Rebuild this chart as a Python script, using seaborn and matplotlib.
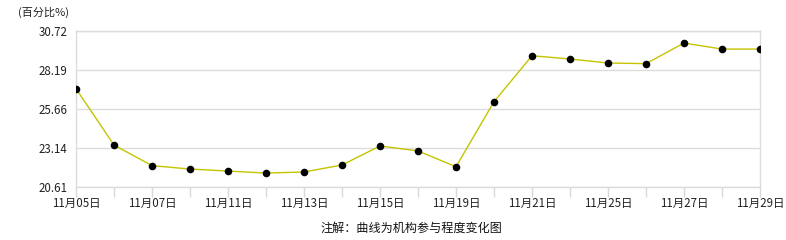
import matplotlib
matplotlib.use("Agg")
import matplotlib.pyplot as plt
import seaborn as sns
import pandas as pd

dates = ["11月05日", "11月06日", "11月07日", "11月10日", "11月11日", "11月12日",
         "11月13日", "11月14日", "11月15日", "11月18日", "11月19日", "11月20日",
         "11月21日", "11月24日", "11月25日", "11月26日", "11月27日", "11月28日",
         "11月29日"]
values = [26.96, 23.32, 21.99, 21.77, 21.64, 21.51, 21.58, 22.03, 23.26, 22.94,
          21.92, 26.12, 29.09, 28.88, 28.62, 28.58, 29.91, 29.52, 29.52]
yticks = [20.61, 23.14, 25.66, 28.19, 30.72]
title = "(百分比%)"
note = "注解：曲线为机构参与程度变化图"

sns.set_theme(style="white")
plt.rcParams['font.family'] = ['Noto Sans CJK SC', 'DejaVu Sans']

df = pd.DataFrame({"idx": range(len(dates)), "value": values})

fig = plt.figure(figsize=(7.86, 2.4), dpi=100)
ax = fig.add_axes([76/786, 1-187/240, (760-76)/786, (187-30.5)/240])

sns.lineplot(data=df, x="idx", y="value", ax=ax, color="#c4c400", linewidth=1.0, zorder=2)
sns.scatterplot(data=df, x="idx", y="value", ax=ax, color="black", s=30,
                edgecolor="black", linewidth=0, zorder=3)

ax.set_xlim(0, len(dates)-1)
ax.set_ylim(yticks[0], yticks[-1])
ax.set_yticks(yticks)
ax.set_yticklabels([f"{v:.2f}" for v in yticks], fontsize=8.3, color="#222222")
ax.set_xticks(range(len(dates)))
ax.set_xticklabels([d if i % 2 == 0 else "" for i, d in enumerate(dates)], fontsize=8.3, color="#222222")
ax.tick_params(axis="x", length=7, width=1, color="#d8d8d8", pad=0, bottom=True)
ax.tick_params(axis="y", length=0, pad=6, left=False)
ax.grid(axis="y", color="#dcdcdc", linewidth=1)
ax.set_axisbelow(True)
for side in ["left", "right", "top", "bottom"]:
    ax.spines[side].set_color("#dcdcdc")
    ax.spines[side].set_linewidth(1)
ax.set_xlabel("")
ax.set_ylabel("")

fig.text(18/786, 1-12/240, title, fontsize=8, color="#222222", va="center", ha="left")
fig.text(411/786, 1-228/240, note, fontsize=8.7, color="#111111", va="center", ha="center")

fig.savefig("out.png", dpi=100)
